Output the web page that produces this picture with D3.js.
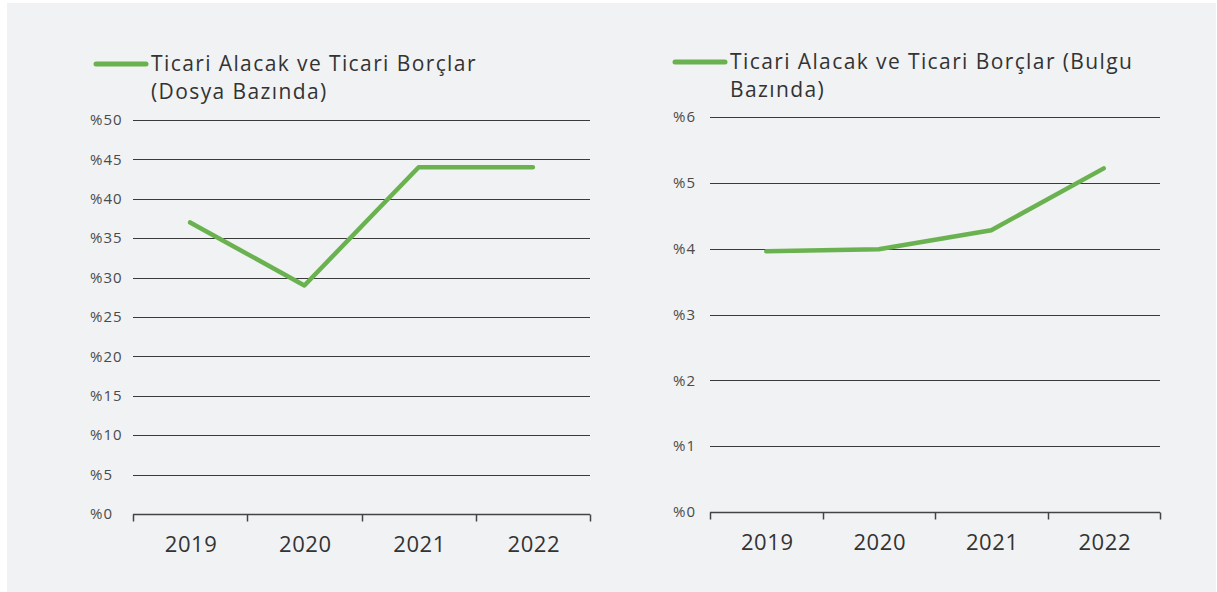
<!DOCTYPE html>
<html>
<head>
<meta charset="utf-8">
<script src="https://cdn.jsdelivr.net/npm/d3@7"></script>
<style>
  body { margin: 0; background: #fff; }
  svg { display: block; }
</style>
</head>
<body>
<div id="chart"></div>
<script>
// Data
const years = ["2019", "2020", "2021", "2022"];
const dosyaValues = [37, 29, 44, 44];
const bulguValues = [3.96, 3.99, 4.28, 5.22];
const dosyaTicks = [0, 5, 10, 15, 20, 25, 30, 35, 40, 45, 50];
const bulguTicks = [0, 1, 2, 3, 4, 5, 6];
const dosyaTitle = ["Ticari Alacak ve Ticari Borçlar", "(Dosya Bazında)"];
const bulguTitle = ["Ticari Alacak ve Ticari Borçlar (Bulgu", "Bazında)"];

const W = 1217, H = 592;
const green = "#6ab24f";
const font = "'Open Sans', sans-serif";

const svg = d3.select("#chart")
    .append("svg")
    .attr("width", W)
    .attr("height", H);

// light grey panel behind both charts
svg.append("rect")
    .attr("x", 7).attr("y", 3)
    .attr("width", 1209).attr("height", 589)
    .attr("fill", "#f1f2f4");

function drawChart(opts) {
    const g = svg.append("g");

    const x = d3.scaleBand()
        .domain(years)
        .range([opts.left, opts.right]);

    const y = d3.scaleLinear()
        .domain([0, d3.max(opts.ticks)])
        .range([opts.bottom, opts.top]);

    // gridlines
    g.selectAll(".grid")
        .data(opts.ticks.filter(t => t > 0))
        .enter()
        .append("line")
        .attr("x1", opts.left)
        .attr("x2", opts.right)
        .attr("y1", d => Math.round(y(d)) + 0.5)
        .attr("y2", d => Math.round(y(d)) + 0.5)
        .attr("stroke", "#3a3a3a")
        .attr("stroke-width", 1);

    // y tick labels, left aligned
    g.selectAll(".ylab")
        .data(opts.ticks)
        .enter()
        .append("text")
        .attr("x", opts.labelX)
        .attr("y", d => y(d))
        .attr("dy", "0.35em")
        .style("font-family", font)
        .style("font-size", "15px")
        .style("letter-spacing", "1px")
        .attr("fill", "#4a4a4a")
        .text(d => "%" + d);

    // bottom axis with ticks between bands
    const axisY = Math.round(y(0)) + 0.5;
    g.append("line")
        .attr("x1", opts.left).attr("x2", opts.right)
        .attr("y1", axisY).attr("y2", axisY)
        .attr("stroke", "#444")
        .attr("stroke-width", 1.5);

    const edges = years.map(d => x(d)).concat([opts.right]);
    g.selectAll(".xtick")
        .data(edges)
        .enter()
        .append("line")
        .attr("x1", d => Math.round(d) + 0.5)
        .attr("x2", d => Math.round(d) + 0.5)
        .attr("y1", axisY)
        .attr("y2", axisY + 7)
        .attr("stroke", "#444")
        .attr("stroke-width", 1.5);

    g.selectAll(".xlab")
        .data(years)
        .enter()
        .append("text")
        .attr("x", d => x(d) + x.bandwidth() / 2 + 1)
        .attr("y", axisY + 30)
        .attr("dy", "0.35em")
        .attr("text-anchor", "middle")
        .style("font-family", font)
        .style("font-size", "22px")
        .style("letter-spacing", "0.6px")
        .attr("fill", "#333")
        .text(d => d);

    // the series line
    const line = d3.line()
        .x((d, i) => x(years[i]) + x.bandwidth() / 2)
        .y(d => y(d));

    g.append("path")
        .datum(opts.values)
        .attr("d", line)
        .attr("fill", "none")
        .attr("stroke", green)
        .attr("stroke-width", 4.5)
        .attr("stroke-linecap", "round")
        .attr("stroke-linejoin", "round");

    // legend
    g.append("line")
        .attr("x1", opts.legendX).attr("x2", opts.legendX + 50)
        .attr("y1", opts.legendY).attr("y2", opts.legendY)
        .attr("stroke", green)
        .attr("stroke-width", 5)
        .attr("stroke-linecap", "round");

    const title = g.append("text")
        .attr("x", opts.legendX + 55)
        .attr("y", opts.legendY)
        .style("font-family", font)
        .style("font-size", "21px")
        .style("letter-spacing", "1.4px")
        .attr("fill", "#333");

    title.selectAll("tspan")
        .data(opts.title)
        .enter()
        .append("tspan")
        .attr("x", opts.legendX + 55)
        .attr("y", (d, i) => opts.legendY + 7 + i * 28)
        .text(d => d);
}

drawChart({
    values: dosyaValues, ticks: dosyaTicks, title: dosyaTitle,
    left: 133, right: 590, top: 120, bottom: 514,
    labelX: 90, legendX: 96, legendY: 64
});

drawChart({
    values: bulguValues, ticks: bulguTicks, title: bulguTitle,
    left: 710, right: 1160, top: 117, bottom: 512,
    labelX: 673, legendX: 675, legendY: 62
});
</script>
</body>
</html>
